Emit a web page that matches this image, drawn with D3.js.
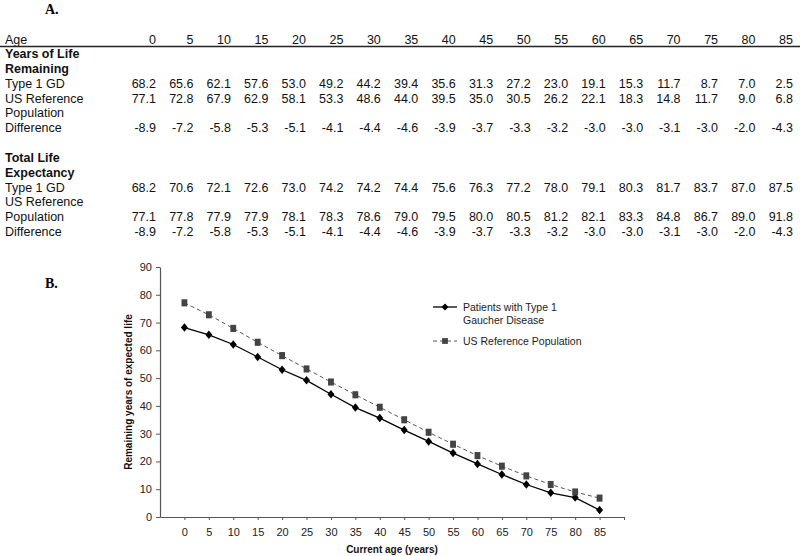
<!DOCTYPE html>
<html>
<head>
<meta charset="utf-8">
<script src="https://cdn.jsdelivr.net/npm/d3@7"></script>
<style>
  body { margin: 0; background: #fff; }
  svg { display: block; font-family: "Liberation Sans", Arial, sans-serif; }
</style>
</head>
<body>
<div id="graph"></div>
<script>
var ages = [0, 5, 10, 15, 20, 25, 30, 35, 40, 45, 50, 55, 60, 65, 70, 75, 80, 85]
var type1Remaining = [68.2, 65.6, 62.1, 57.6, 53.0, 49.2, 44.2, 39.4, 35.6, 31.3, 27.2, 23.0, 19.1, 15.3, 11.7, 8.7, 7.0, 2.5]
var usRemaining = [77.1, 72.8, 67.9, 62.9, 58.1, 53.3, 48.6, 44.0, 39.5, 35.0, 30.5, 26.2, 22.1, 18.3, 14.8, 11.7, 9.0, 6.8]
var difference = [-8.9, -7.2, -5.8, -5.3, -5.1, -4.1, -4.4, -4.6, -3.9, -3.7, -3.3, -3.2, -3.0, -3.0, -3.1, -3.0, -2.0, -4.3]
var type1Total = [68.2, 70.6, 72.1, 72.6, 73.0, 74.2, 74.2, 74.4, 75.6, 76.3, 77.2, 78.0, 79.1, 80.3, 81.7, 83.7, 87.0, 87.5]
var usTotal = [77.1, 77.8, 77.9, 77.9, 78.1, 78.3, 78.6, 79.0, 79.5, 80.0, 80.5, 81.2, 82.1, 83.3, 84.8, 86.7, 89.0, 91.8]
var yTicks = [0, 10, 20, 30, 40, 50, 60, 70, 80, 90]
var legendNames = ['Patients with Type 1|Gaucher Disease', 'US Reference Population']

var width = 800, height = 556

var svg = d3.select('#graph').html('')
  .append('svg')
    .attr('width', width)
    .attr('height', height)

//////////// Panel A: table ////////////
svg.append('text')
  .attr('x', 45).attr('y', 14)
  .style('font-family', '"Liberation Serif", "Times New Roman", serif')
  .style('font-weight', 'bold').style('font-size', '14px')
  .text('A.')

// right edges of the number columns
var col = d3.scaleLinear().domain([0, 85]).range([156, 793])
var fmt = d3.format('.1f')

var table = svg.append('g').style('font-size', '12.5px').attr('fill', '#111')

function rowLabel(txt, y, bold){
  table.append('text').attr('x', 5).attr('y', y)
    .style('font-weight', bold ? 'bold' : 'normal')
    .text(txt)
}
function rowValues(vals, y, isAge){
  table.append('g').selectAll('text')
    .data(vals)
    .enter().append('text')
      .attr('x', function(d, i){ return col(ages[i]) })
      .attr('y', y)
      .attr('text-anchor', 'end')
      .text(function(d){ return isAge ? d : fmt(d).replace('\u2212', '-') })
}

rowLabel('Age', 44)
rowValues(ages, 44, true)
svg.append('line')
  .attr('x1', 0).attr('x2', 800).attr('y1', 46.5).attr('y2', 46.5)
  .attr('stroke', '#222').attr('stroke-width', 1.5)

rowLabel('Years of Life', 58, true)
rowLabel('Remaining', 73, true)
rowLabel('Type 1 GD', 88)
rowValues(type1Remaining, 88)
rowLabel('US Reference', 103)
rowValues(usRemaining, 103)
rowLabel('Population', 117)
rowLabel('Difference', 132)
rowValues(difference, 132)

rowLabel('Total Life', 162, true)
rowLabel('Expectancy', 177, true)
rowLabel('Type 1 GD', 192)
rowValues(type1Total, 192)
rowLabel('US Reference', 206)
rowLabel('Population', 221)
rowValues(usTotal, 221)
rowLabel('Difference', 236)
rowValues(difference, 236)

//////////// Panel B: line chart ////////////
svg.append('text')
  .attr('x', 45).attr('y', 288)
  .style('font-family', '"Liberation Serif", "Times New Roman", serif')
  .style('font-weight', 'bold').style('font-size', '14px')
  .text('B.')

var x = d3.scaleLinear().domain([-5, 90]).range([160, 624])
var y = d3.scaleLinear().domain([0, 90]).range([517, 267])

var axisColor = '#555'

var xAxis = svg.append('g')
  .attr('transform', 'translate(0,' + y(0) + ')')
  .call(d3.axisBottom(x).tickValues(ages.concat([90])).tickSize(3).tickSizeOuter(0)
    .tickFormat(function(d){ return d == 90 ? '' : d }))
xAxis.select('.domain').attr('stroke', axisColor).attr('stroke-width', 1.2)
xAxis.selectAll('.tick line').attr('stroke', axisColor)
xAxis.selectAll('.tick text')
  .attr('dy', '1.2em')
  .style('font-size', '11px').style('font-family', '"Liberation Sans", Arial, sans-serif')
  .attr('fill', '#222')

var yAxis = svg.append('g')
  .attr('transform', 'translate(' + x(-5) + ',0)')
  .call(d3.axisLeft(y).tickValues(yTicks).tickSize(4).tickSizeOuter(0).tickPadding(4))
yAxis.select('.domain').attr('stroke', axisColor).attr('stroke-width', 1.2)
yAxis.selectAll('.tick line').attr('stroke', axisColor)
yAxis.selectAll('.tick text')
  .style('font-size', '11px').style('font-family', '"Liberation Sans", Arial, sans-serif')
  .attr('fill', '#222')

svg.append('text')
  .attr('transform', 'translate(132,392) rotate(-90)')
  .attr('text-anchor', 'middle')
  .style('font-size', '10px').style('font-weight', 'bold')
  .attr('fill', '#111')
  .text('Remaining years of expected life')

svg.append('text')
  .attr('x', 392).attr('y', 553)
  .attr('text-anchor', 'middle')
  .style('font-size', '10px').style('font-weight', 'bold')
  .attr('fill', '#111')
  .text('Current age (years)')

// diamond = square turned 45 degrees, slightly taller than wide
var series = [
  {name: legendNames[0], values: type1Remaining, color: '#000', dash: null, shape: d3.symbolSquare, size: 30, rot: 'rotate(45) scale(1,1)', fill: '#000'},
  {name: legendNames[1], values: usRemaining, color: '#555', dash: '4,3', shape: d3.symbolSquare, size: 42, rot: '', fill: '#444'}
]

var line = d3.line()
  .x(function(d, i){ return x(ages[i]) })
  .y(function(d){ return y(d) })

series.forEach(function(s){
  svg.append('path')
    .datum(s.values)
    .attr('d', line)
    .attr('fill', 'none')
    .attr('stroke', s.color)
    .attr('stroke-width', s.dash ? 1 : 1.3)
    .attr('stroke-dasharray', s.dash)

  svg.append('g').selectAll('path')
    .data(s.values)
    .enter().append('path')
      .attr('d', d3.symbol().type(s.shape).size(s.size))
      .attr('transform', function(d, i){ return 'translate(' + x(ages[i]) + ',' + y(d) + ') scale(0.9,1.1) ' + s.rot })
      .attr('fill', s.fill)
})

// legend
var legend = svg.append('g').style('font-size', '10.5px').attr('fill', '#222')
var legendY = [307, 341]
series.forEach(function(s, i){
  var ly = legendY[i]
  legend.append('line')
    .attr('x1', 433).attr('x2', 457).attr('y1', ly).attr('y2', ly)
    .attr('stroke', s.color).attr('stroke-width', s.dash ? 1 : 1.3)
    .attr('stroke-dasharray', s.dash)
  legend.append('path')
    .attr('d', d3.symbol().type(s.shape).size(s.size * 0.8)())
    .attr('transform', 'translate(445,' + ly + ') ' + s.rot)
    .attr('fill', s.fill)
  s.name.split('|').forEach(function(t, j){
    legend.append('text')
      .attr('x', 463).attr('y', ly + 4 + j * 13)
      .text(t)
  })
})
</script>
</body>
</html>
